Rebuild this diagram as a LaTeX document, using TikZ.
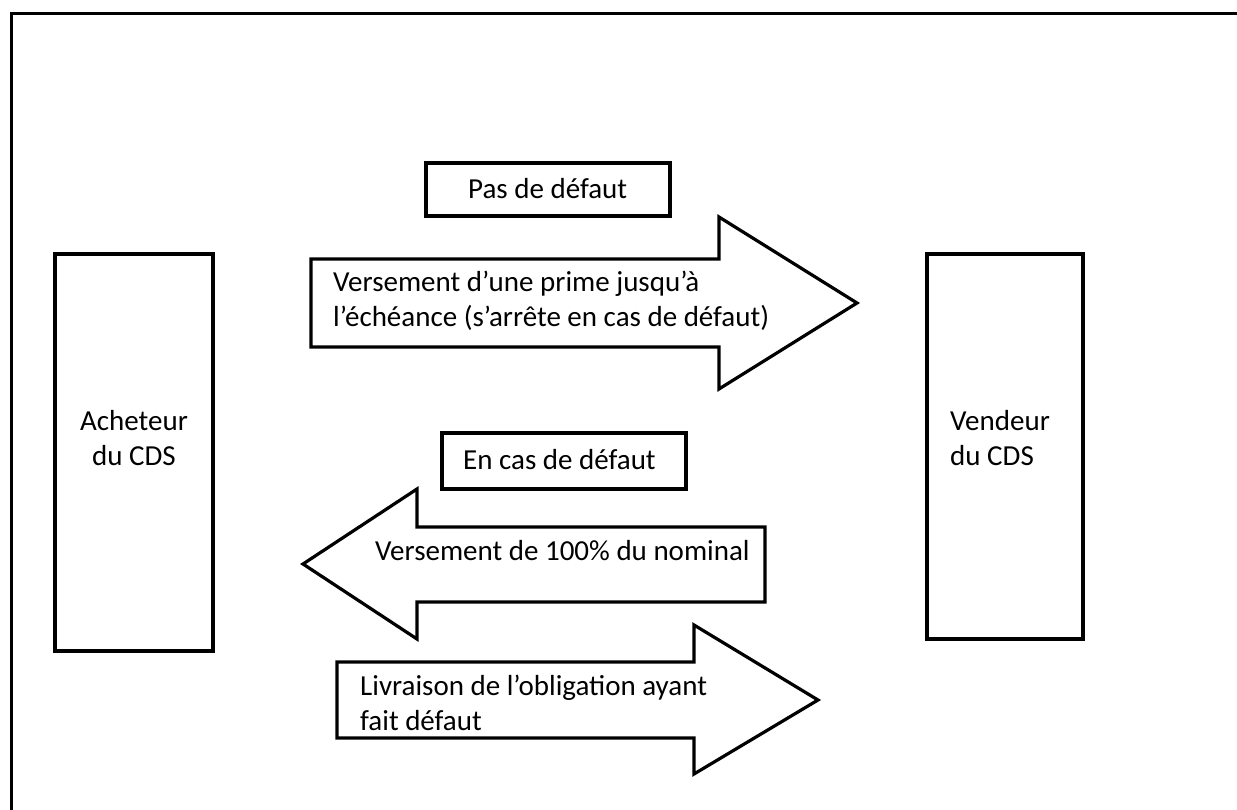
\documentclass[tikz,border=0pt]{standalone}
\usepackage{fontspec}
\setmainfont{Carlito}
\begin{document}
\begin{tikzpicture}[x=1pt,y=-1pt,
  lbl/.style={inner sep=0pt,font=\fontsize{29}{35}\selectfont,align=left},
  frame/.style={line width=3.4pt,line join=miter},
  blockarrow/.style={line width=3.2pt,line join=miter,fill=white}]
\useasboundingbox (0,0) rectangle (1237,810);
% outer frame, running off the right and bottom edges
\begin{scope}
  \clip (0,0) rectangle (1237,810);
  \draw[line width=3pt] (11,14) rectangle (1260,840);
\end{scope}

% parties
\draw[frame] (55,254) rectangle (213,651);
\node[lbl,align=center] (buyer) at (134,438) {Acheteur\\du CDS};
\draw[frame] (927,254) rectangle (1083,639);
\node[lbl,anchor=west] (seller) at (950,438) {Vendeur\\du CDS};

% condition labels
\draw[frame] (426,163) rectangle (670,216);
\node[lbl,anchor=west] (nodef) at (468,189) {Pas de défaut};
\draw[frame] (442,433) rectangle (686,489);
\node[lbl,anchor=west] (def) at (463,460) {En cas de défaut};

% premium leg
\draw[blockarrow] (311,259) -- (719,259) -- (719,217) -- (857,303) -- (719,389)
  -- (719,347) -- (311,347) -- cycle;
\node[lbl,anchor=west] (prem) at (333,301)
  {Versement d’une prime jusqu’à\\l’échéance (s’arrête en cas de défaut)};

% protection leg
\draw[blockarrow] (765,527) -- (417,527) -- (417,489) -- (303,564) -- (417,639)
  -- (417,602) -- (765,602) -- cycle;
\node[lbl,anchor=west] (pay) at (375,551) {Versement de 100\% du nominal};

% delivery leg
\draw[blockarrow] (337,662) -- (694,662) -- (694,625) -- (818,700) -- (694,774)
  -- (694,738) -- (337,738) -- cycle;
\node[lbl,anchor=west] (deliv) at (360,703)
  {Livraison de l’obligation ayant\\fait défaut};
\end{tikzpicture}
\end{document}
